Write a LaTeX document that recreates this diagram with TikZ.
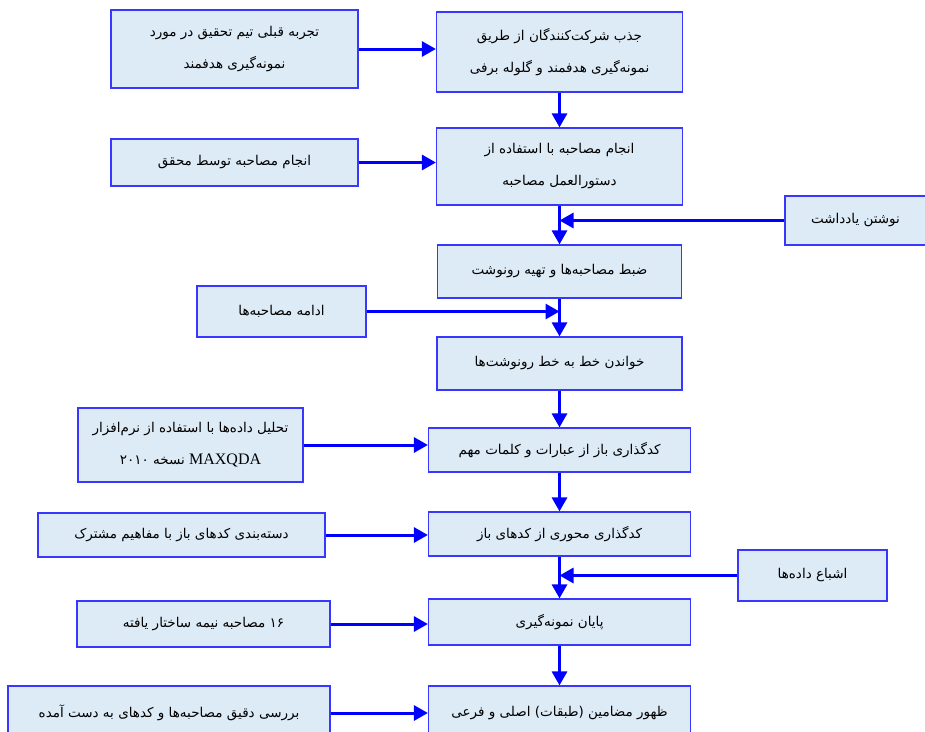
\documentclass[tikz,border=0pt]{standalone}
\usepackage{fontspec}
\usetikzlibrary{arrows.meta}
\TeXXeTstate=1
\newfontfamily\arabicfont[Script=Arabic]{DejaVu Sans}
\newfontfamily\latinfont{Liberation Serif}
\newcommand{\fa}[1]{{\arabicfont\beginR #1\endR}}
\definecolor{boxfill}{RGB}{221,235,247}
\definecolor{boxline}{RGB}{55,55,255}
\definecolor{flowblue}{RGB}{0,0,255}

\begin{document}
\begin{tikzpicture}[x=1pt, y=-1pt,
    box/.style={draw=boxline, line width=1.2pt, fill=boxfill, align=center, inner sep=2pt,
      font=\fontsize{13.5}{32}\selectfont},
    flow/.style={draw=flowblue, line width=3pt, -{Triangle[length=14pt,width=15pt]}}]
  \useasboundingbox (0,0) rectangle (925,731);

  % main column
  \node[box, minimum width=246pt, minimum height=80pt] (recruit) at (559.5,52) {\fa{جذب شرکت^^^^200cکنندگان از طریق}\\\fa{نمونه^^^^200cگیری هدفمند و گلوله برفی}};
  \node[box, minimum width=246pt, minimum height=77pt] (interview) at (559.5,166.5) {\fa{انجام مصاحبه با استفاده از}\\\fa{دستورالعمل مصاحبه}};
  \node[box, minimum width=244pt, minimum height=53pt] (record) at (559.5,271.5) {\fa{ضبط مصاحبه^^^^200cها و تهیه رونوشت}};
  \node[box, minimum width=245pt, minimum height=53pt] (read) at (559.5,363.5) {\fa{خواندن خط به خط رونوشت^^^^200cها}};
  \node[box, minimum width=262pt, minimum height=44pt] (opencode) at (559.5,450) {\fa{کدگذاری باز از عبارات و کلمات مهم}};
  \node[box, minimum width=262pt, minimum height=44pt] (axialcode) at (559.5,534) {\fa{کدگذاری محوری از کدهای باز}};
  \node[box, minimum width=262pt, minimum height=46pt] (endsample) at (559.5,622) {\fa{پایان نمونه^^^^200cگیری}};
  \node[box, minimum width=262pt, minimum height=54pt] (themes) at (559.5,713) {\fa{ظهور مضامین (طبقات) اصلی و فرعی}};

  % side boxes
  \node[box, minimum width=247pt, minimum height=78pt] (experience) at (234.5,49) {\fa{تجربه قبلی تیم تحقیق در مورد}\\\fa{نمونه^^^^200cگیری هدفمند}};
  \node[box, minimum width=247pt, minimum height=47pt] (researcher) at (234.5,162.5) {\fa{انجام مصاحبه توسط محقق}};
  \node[box, minimum width=141pt, minimum height=49pt] (notes) at (855.5,220.5) {\fa{نوشتن یادداشت}};
  \node[box, minimum width=169pt, minimum height=51pt] (continue) at (281.5,311.5) {\fa{ادامه مصاحبه^^^^200cها}};
  \node[box, minimum width=225pt, minimum height=74pt] (software) at (190.5,445) {\fa{تحلیل داده^^^^200cها با استفاده از نرم^^^^200cافزار}\\\fa{\beginL{\latinfont\fontsize{16}{32}\selectfont MAXQDA}\endL{} نسخه ۲۰۱۰}};
  \node[box, minimum width=287pt, minimum height=44pt] (categorize) at (181.5,535) {\fa{دسته^^^^200cبندی کدهای باز با مفاهیم مشترک}};
  \node[box, minimum width=149pt, minimum height=51pt] (saturation) at (812.5,575.5) {\fa{اشباع داده^^^^200cها}};
  \node[box, minimum width=253pt, minimum height=46pt] (sixteen) at (203.5,624) {\fa{۱۶ مصاحبه نیمه ساختار یافته}};
  \node[box, minimum width=322pt, minimum height=54pt] (review) at (169,713) {\fa{بررسی دقیق مصاحبه^^^^200cها و کدهای به دست آمده}};

  % main flow
  \draw[flow] (recruit) -- (interview);
  \draw[flow] (interview) -- (record);
  \draw[flow] (record) -- (read);
  \draw[flow] (read) -- (opencode);
  \draw[flow] (opencode) -- (axialcode);
  \draw[flow] (axialcode) -- (endsample);
  \draw[flow] (endsample) -- (themes);

  % inputs
  \draw[flow] (experience.east) -- (experience.east -| recruit.west);
  \draw[flow] (researcher.east) -- (researcher.east -| interview.west);
  \draw[flow] (notes.west) -- (notes.west -| interview.south);
  \draw[flow] (continue.east) -- (continue.east -| record.south);
  \draw[flow] (software.east) -- (software.east -| opencode.west);
  \draw[flow] (categorize.east) -- (categorize.east -| axialcode.west);
  \draw[flow] (saturation.west) -- (saturation.west -| axialcode.south);
  \draw[flow] (sixteen.east) -- (sixteen.east -| endsample.west);
  \draw[flow] (review.east) -- (review.east -| themes.west);
\end{tikzpicture}
\end{document}
